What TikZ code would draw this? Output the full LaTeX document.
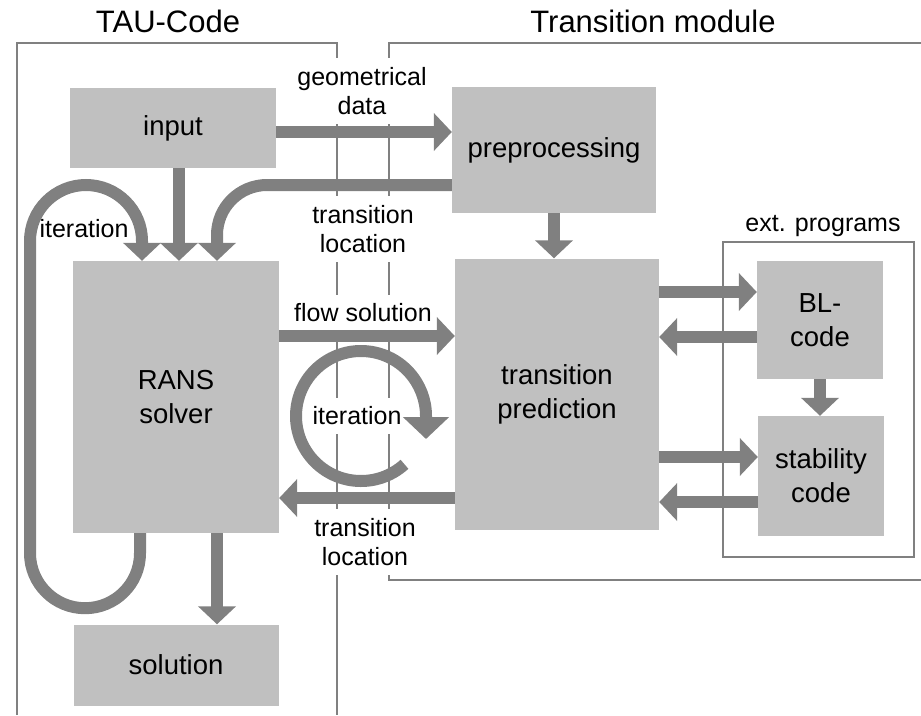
\documentclass[tikz,border=0pt]{standalone}
\usepackage{fontspec}
\setmainfont{Liberation Sans}
\usetikzlibrary{arrows.meta}
\definecolor{boxgray}{RGB}{192,192,192}
\definecolor{arrgray}{RGB}{128,128,128}

\begin{document}
\begin{tikzpicture}[x=1pt,y=-1pt]
    \tikzset{pbox/.style={fill=boxgray,rectangle,inner sep=0pt,align=center,font=\fontsize{27.5}{34}\selectfont}}
    \tikzstyle{parrow}=[-{Triangle[width=37pt,length=18pt]},line width=12pt,color=arrgray]
    \tikzstyle{plabel}=[fill=white,align=center,inner xsep=3pt,inner ysep=9pt,font=\fontsize{25}{29}\selectfont]
    \tikzstyle{pframe}=[line width=2pt,color=arrgray]
    \useasboundingbox (0,0) rectangle (921,715);

    \node[font=\fontsize{31}{36}\selectfont] (TAU) at (168,21) {TAU-Code};
    \node[font=\fontsize{31}{36}\selectfont] (TM) at (653,21) {Transition module};
    \draw[pframe] (17,715)--(17,43)--(337,43)--(337,715);
    \draw[pframe] (921,43)--(389,43)--(389,580)--(921,580);
    \draw[pframe] (723,242) rectangle (914,557);
    \node[font=\fontsize{25}{29}\selectfont] (EXT) at (823,226) {ext. programs};

    \node[pbox,minimum width=206pt,minimum height=80pt] (INP) at (173,128) {input};
    \node[pbox,minimum width=206pt,minimum height=272pt] (RANS) at (176,397) {RANS\\solver};
    \node[pbox,minimum width=205pt,minimum height=81pt] (SOL) at (176,665) {solution};
    \node[pbox,minimum width=204pt,minimum height=126pt] (PRE) at (554,150) {preprocessing};
    \node[pbox,minimum width=204pt,minimum height=271pt] (TP) at (557,394) {transition\\prediction};
    \node[pbox,minimum width=126pt,minimum height=118pt] (BL) at (820,320) {BL-\\code};
    \node[pbox,minimum width=126pt,minimum height=120pt] (STAB) at (821,476) {stability\\code};

    \node[plabel] (GEO) at (362,91) {geometrical\\data};
    \node[plabel] (LOC1) at (363,229) {transition\\location};
    \node[plabel] (FLOW) at (363,313) {flow solution};
    \node[plabel] (ITER) at (357,416) {iteration};
    \node[plabel] (LOC2) at (365,542) {transition\\location};
    \node[font=\fontsize{25}{29}\selectfont] (ITL) at (84,229) {iteration};

    \draw[parrow] ([yshift=-4pt]INP.east)--([yshift=-4pt]INP.east -| PRE.west);
    \draw[parrow] ([xshift=6pt]INP.south)--([xshift=6pt]INP.south |- RANS.north);
    \draw[parrow,rounded corners=50pt] ([yshift=-35pt]PRE.west) -| ([xshift=41pt]RANS.north);
    \draw[parrow] ([xshift=-36pt]RANS.south) -- ++(0,20) arc[start angle=0,end angle=180,radius=55]
        -- (30,241) arc[start angle=180,end angle=360,radius=56] -- ([xshift=-34pt]RANS.north);
    \draw[parrow] ([xshift=41pt]RANS.south)--([xshift=41pt]RANS.south |- SOL.north);
    \draw[parrow] (PRE.south)--(PRE.south |- TP.north);

    \draw[parrow] ([yshift=61pt]RANS.east)--([yshift=61pt]RANS.east -| TP.west);
    \draw[parrow] ([yshift=-101pt]RANS.east -| TP.west)--([yshift=-101pt]RANS.east);
    \draw[parrow,-{Triangle[width=45pt,length=22pt]}] ([xshift=4pt]ITER.center) ++(48:65)
        arc[start angle=48,end angle=360,radius=65] -- ++(0,23);

    \draw[parrow] ([yshift=28pt]BL.west -| TP.east)--([yshift=28pt]BL.west);
    \draw[parrow] ([yshift=-17pt]BL.west)--([yshift=-17pt]BL.west -| TP.east);
    \draw[parrow] ([yshift=19pt]STAB.west -| TP.east)--([yshift=19pt]STAB.west);
    \draw[parrow] ([yshift=-26pt]STAB.west)--([yshift=-26pt]STAB.west -| TP.east);
    \draw[parrow] (BL.south)--(BL.south |- STAB.north);
\end{tikzpicture}
\end{document}
